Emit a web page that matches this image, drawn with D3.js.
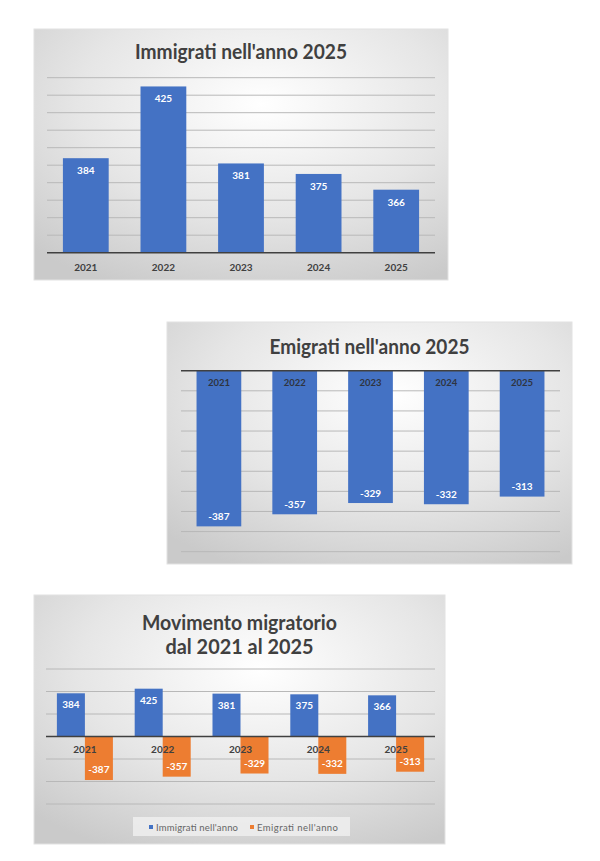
<!DOCTYPE html>
<html>
<head>
<meta charset="utf-8">
<script src="https://cdn.jsdelivr.net/npm/d3@7"></script>
<style>
    body { margin: 0; background: #fff; }
    svg { display: block; }
    text { font-family: Lato, "Open Sans", sans-serif; }
</style>
</head>
<body>
<svg id="chart" width="600" height="861"></svg>
<script>
// Data
const anni = ['2021', '2022', '2023', '2024', '2025'];
const immigrati = [384, 425, 381, 375, 366];
const emigrati = [-387, -357, -329, -332, -313];
const ticksImm = [330, 340, 350, 360, 370, 380, 390, 400, 410, 420, 430];
const ticksEmi = [-450, -400, -350, -300, -250, -200, -150, -100, -50, 0];
const ticksMov = [-600, -400, -200, 0, 200, 400, 600];
const serieMov = ['Immigrati nell\'anno', 'Emigrati nell\'anno'];

const BLU = '#4472c4', ARANCIO = '#ed7d31', GRIGIO = '#404040';

const svg = d3.select('#chart');

// background gradient shared by the three panels
const grad = svg.append('defs').append('radialGradient')
    .attr('id', 'sfondo')
    .attr('cx', '55%').attr('cy', '30%').attr('r', '80%');
grad.selectAll('stop')
    .data([{o: '0%', c: '#ffffff'}, {o: '55%', c: '#e6e6e6'}, {o: '100%', c: '#cacaca'}])
    .join('stop')
    .attr('offset', d => d.o)
    .attr('stop-color', d => d.c);

/*
Draws the panel background and title lines
 */
function pannello(x, y, w, h, righe, size, baseline, lh, widths) {
    const g = svg.append('g');
    g.append('rect')
        .attr('x', x).attr('y', y).attr('width', w).attr('height', h)
        .attr('fill', 'url(#sfondo)')
        .attr('stroke', '#e2e2e2');
    righe.forEach((r, i) => {
        g.append('text')
            .attr('x', x + w / 2)
            .attr('y', baseline + i * lh)
            .attr('text-anchor', 'middle')
            .attr('font-size', size)
            .attr('font-weight', 'bold')
            .attr('fill', GRIGIO)
            .attr('textLength', widths[i])
            .attr('lengthAdjust', 'spacingAndGlyphs')
            .text(r);
    });
    return g;
}

// horizontal gridlines, the base value is left to the dark line
function griglia(g, y, ticks, base, x0, x1) {
    g.selectAll('line.grid')
        .data(ticks.filter(t => t !== base))
        .join('line')
        .attr('class', 'grid')
        .attr('x1', x0).attr('x2', x1)
        .attr('y1', d => y(d)).attr('y2', d => y(d))
        .attr('stroke', '#b8b8b8')
        .attr('stroke-width', 1);
}

function lineaBase(g, y, base, x0, x1) {
    g.append('line')
        .attr('x1', x0).attr('x2', x1)
        .attr('y1', y(base)).attr('y2', y(base))
        .attr('stroke', GRIGIO)
        .attr('stroke-width', 1.6);
}

// ---------- Chart 1: Immigrati ----------
{
    const g = pannello(34, 29, 414, 251, ['Immigrati nell\'anno 2025'], 20, 58.5, 0, [212]);
    const x = d3.scaleBand().domain(anni).range([47, 435]).paddingInner(0.41).paddingOuter(0.205);
    const y = d3.scaleLinear().domain([330, 430]).range([252.7, 77.7]);
    griglia(g, y, ticksImm, 330, 47, 435);

    g.selectAll('rect.bar')
        .data(anni.map((a, i) => ({a, v: immigrati[i]})))
        .join('rect')
        .attr('class', 'bar')
        .attr('x', d => x(d.a))
        .attr('width', x.bandwidth())
        .attr('y', d => y(d.v))
        .attr('height', d => y(330) - y(d.v))
        .attr('fill', BLU);
    lineaBase(g, y, 330, 47, 435);

    g.selectAll('text.val')
        .data(anni.map((a, i) => ({a, v: immigrati[i]})))
        .join('text')
        .attr('class', 'val')
        .attr('x', d => x(d.a) + x.bandwidth() / 2)
        .attr('y', d => y(d.v) + 16)
        .attr('text-anchor', 'middle')
        .attr('font-size', 10).attr('font-weight', 'bold')
        .attr('fill', '#fff')
        .text(d => d.v);

    // category axis
    const ax = g.append('g')
        .attr('transform', 'translate(0,' + y(330) + ')')
        .call(d3.axisBottom(x).tickSize(0).tickPadding(11));
    ax.select('.domain').remove();
    ax.selectAll('text')
        .attr('font-size', 10).attr('font-weight', 'bold')
        .attr('font-family', 'Lato, sans-serif')
        .attr('fill', GRIGIO);
}

// ---------- Chart 2: Emigrati ----------
{
    const g = pannello(167, 322, 405, 242, ['Emigrati nell\'anno 2025'], 20, 353.5, 0, [200]);
    const x = d3.scaleBand().domain(anni).range([181, 560]).paddingInner(0.41).paddingOuter(0.205);
    const y = d3.scaleLinear().domain([-450, 0]).range([551.7, 370.7]);
    griglia(g, y, ticksEmi, 0, 181, 560);

    g.selectAll('rect.bar')
        .data(anni.map((a, i) => ({a, v: emigrati[i]})))
        .join('rect')
        .attr('class', 'bar')
        .attr('x', d => x(d.a))
        .attr('width', x.bandwidth())
        .attr('y', y(0))
        .attr('height', d => y(d.v) - y(0))
        .attr('fill', BLU);
    lineaBase(g, y, 0, 181, 560);

    g.selectAll('text.val')
        .data(anni.map((a, i) => ({a, v: emigrati[i]})))
        .join('text')
        .attr('class', 'val')
        .attr('x', d => x(d.a) + x.bandwidth() / 2)
        .attr('y', d => y(d.v) - 6.5)
        .attr('text-anchor', 'middle')
        .attr('font-size', 10).attr('font-weight', 'bold')
        .attr('fill', '#fff')
        .text(d => d.v);

    // year labels sit inside the bars just under the zero line
    const ax = g.append('g')
        .attr('transform', 'translate(0,' + y(0) + ')')
        .call(d3.axisBottom(x).tickSize(0).tickPadding(9));
    ax.select('.domain').remove();
    ax.selectAll('text')
        .attr('font-size', 9.5).attr('font-weight', 'bold')
        .attr('font-family', 'Lato, sans-serif')
        .attr('fill', '#2f3440');
}

// ---------- Chart 3: Movimento migratorio ----------
{
    const g = pannello(34, 595, 411, 249, ['Movimento migratorio', 'dal 2021 al 2025'], 20.5, 629.5, 24, [195, 148]);
    const x0 = d3.scaleBand().domain(anni).range([46, 435]).paddingInner(0.28).paddingOuter(0.14);
    const x1 = d3.scaleBand().domain(['imm', 'emi']).range([0, x0.bandwidth()]);
    const y = d3.scaleLinear().domain([-600, 600]).range([804, 669]);
    griglia(g, y, ticksMov, 0, 46, 435);

    const righe = anni.map((a, i) => ({a, imm: immigrati[i], emi: emigrati[i]}));
    const gruppi = g.selectAll('g.anno')
        .data(righe)
        .join('g')
        .attr('class', 'anno')
        .attr('transform', d => 'translate(' + x0(d.a) + ',0)');

    gruppi.selectAll('rect')
        .data(d => [{k: 'imm', v: d.imm}, {k: 'emi', v: d.emi}])
        .join('rect')
        .attr('x', d => x1(d.k))
        .attr('width', x1.bandwidth())
        .attr('y', d => Math.min(y(d.v), y(0)))
        .attr('height', d => Math.abs(y(d.v) - y(0)))
        .attr('fill', d => d.k === 'imm' ? BLU : ARANCIO);

    lineaBase(g, y, 0, 46, 435);

    // category labels drawn over the bars, as in the original
    const ax = g.append('g')
        .attr('transform', 'translate(0,' + y(0) + ')')
        .call(d3.axisBottom(x0).tickSize(0).tickPadding(9));
    ax.select('.domain').remove();
    ax.selectAll('text')
        .attr('font-size', 10).attr('font-weight', 'bold')
        .attr('font-family', 'Lato, sans-serif')
        .attr('fill', GRIGIO);

    gruppi.selectAll('text')
        .data(d => [{k: 'imm', v: d.imm}, {k: 'emi', v: d.emi}])
        .join('text')
        .attr('x', d => x1(d.k) + x1.bandwidth() / 2)
        .attr('y', d => d.v > 0 ? y(d.v) + 15 : y(d.v) - 7)
        .attr('text-anchor', 'middle')
        .attr('font-size', 10).attr('font-weight', 'bold')
        .attr('fill', '#fff')
        .text(d => d.v);

    // legend
    const leg = g.append('g');
    leg.append('rect')
        .attr('x', 133).attr('y', 817).attr('width', 217).attr('height', 19)
        .attr('fill', '#efefef').attr('opacity', 0.85);
    const voci = leg.selectAll('g')
        .data(serieMov)
        .join('g')
        .attr('transform', (d, i) => 'translate(' + (i === 0 ? 149 : 250) + ',827)');
    voci.append('rect')
        .attr('x', 0).attr('y', -2).attr('width', 4).attr('height', 4)
        .attr('fill', (d, i) => i === 0 ? BLU : ARANCIO);
    voci.append('text')
        .attr('x', 7).attr('y', 3.5)
        .attr('font-size', 9.5)
        .attr('fill', '#666')
        .attr('textLength', (d, i) => i === 0 ? 82 : 81)
        .attr('lengthAdjust', 'spacing')
        .text(d => d);
}
</script>
</body>
</html>
